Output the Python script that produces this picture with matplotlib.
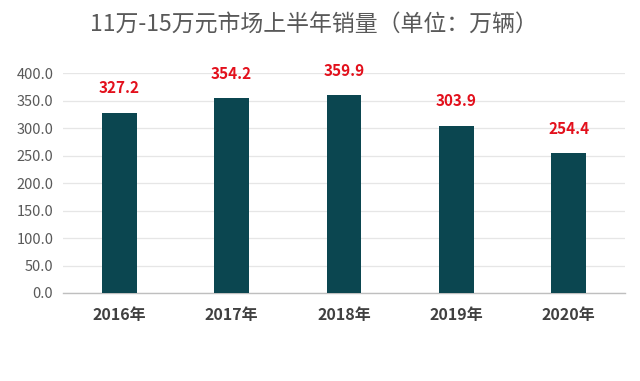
import matplotlib
matplotlib.use('Agg')
import matplotlib.pyplot as plt

plt.rcParams['font.family'] = ['Noto Sans CJK SC', 'DejaVu Sans']

# data
years = ['2016年', '2017年', '2018年', '2019年', '2020年']
sales = [327.2, 354.2, 359.9, 303.9, 254.4]
y_ticks = [0, 50, 100, 150, 200, 250, 300, 350, 400]
title = '11万-15万元市场上半年销量（单位：万辆）'

bar_color = '#0b4650'
label_color = '#e3101c'
text_gray = '#595959'

fig = plt.figure(figsize=(6.4, 3.81), dpi=100)
ax = fig.add_axes([0.0984, 0.231, 0.878, 0.577])

x = range(len(years))
bars = ax.bar(x, sales, width=0.31, color=bar_color, zorder=3)

for xi, v in zip(x, sales):
    ax.annotate(f'{v:.1f}', (xi, v), xytext=(0, 12), textcoords='offset points',
                ha='center', va='bottom', color=label_color,
                fontsize=11, fontweight='bold')

ax.set_xlim(-0.5, len(years) - 0.5)
ax.set_ylim(0, 400)
ax.set_yticks(y_ticks)
ax.set_yticklabels([f'{t:.1f}' for t in y_ticks], color=text_gray, fontsize=10.5)
ax.set_xticks(list(x))
ax.set_xticklabels(years, fontsize=11.5, fontweight='bold', color='#404040')

ax.grid(axis='y', color='#e6e6e6', linewidth=0.9, zorder=0)
for s in ['top', 'right', 'left']:
    ax.spines[s].set_visible(False)
ax.spines['bottom'].set_color('#bfbfbf')
ax.spines['bottom'].set_linewidth(1.0)
ax.tick_params(axis='both', length=0)
ax.tick_params(axis='x', pad=10)
ax.tick_params(axis='y', pad=7)

fig.text(0.49, 0.935, title, ha='center', va='center', fontsize=16.5, color=text_gray)

fig.savefig('out.png', dpi=100, facecolor='white')
